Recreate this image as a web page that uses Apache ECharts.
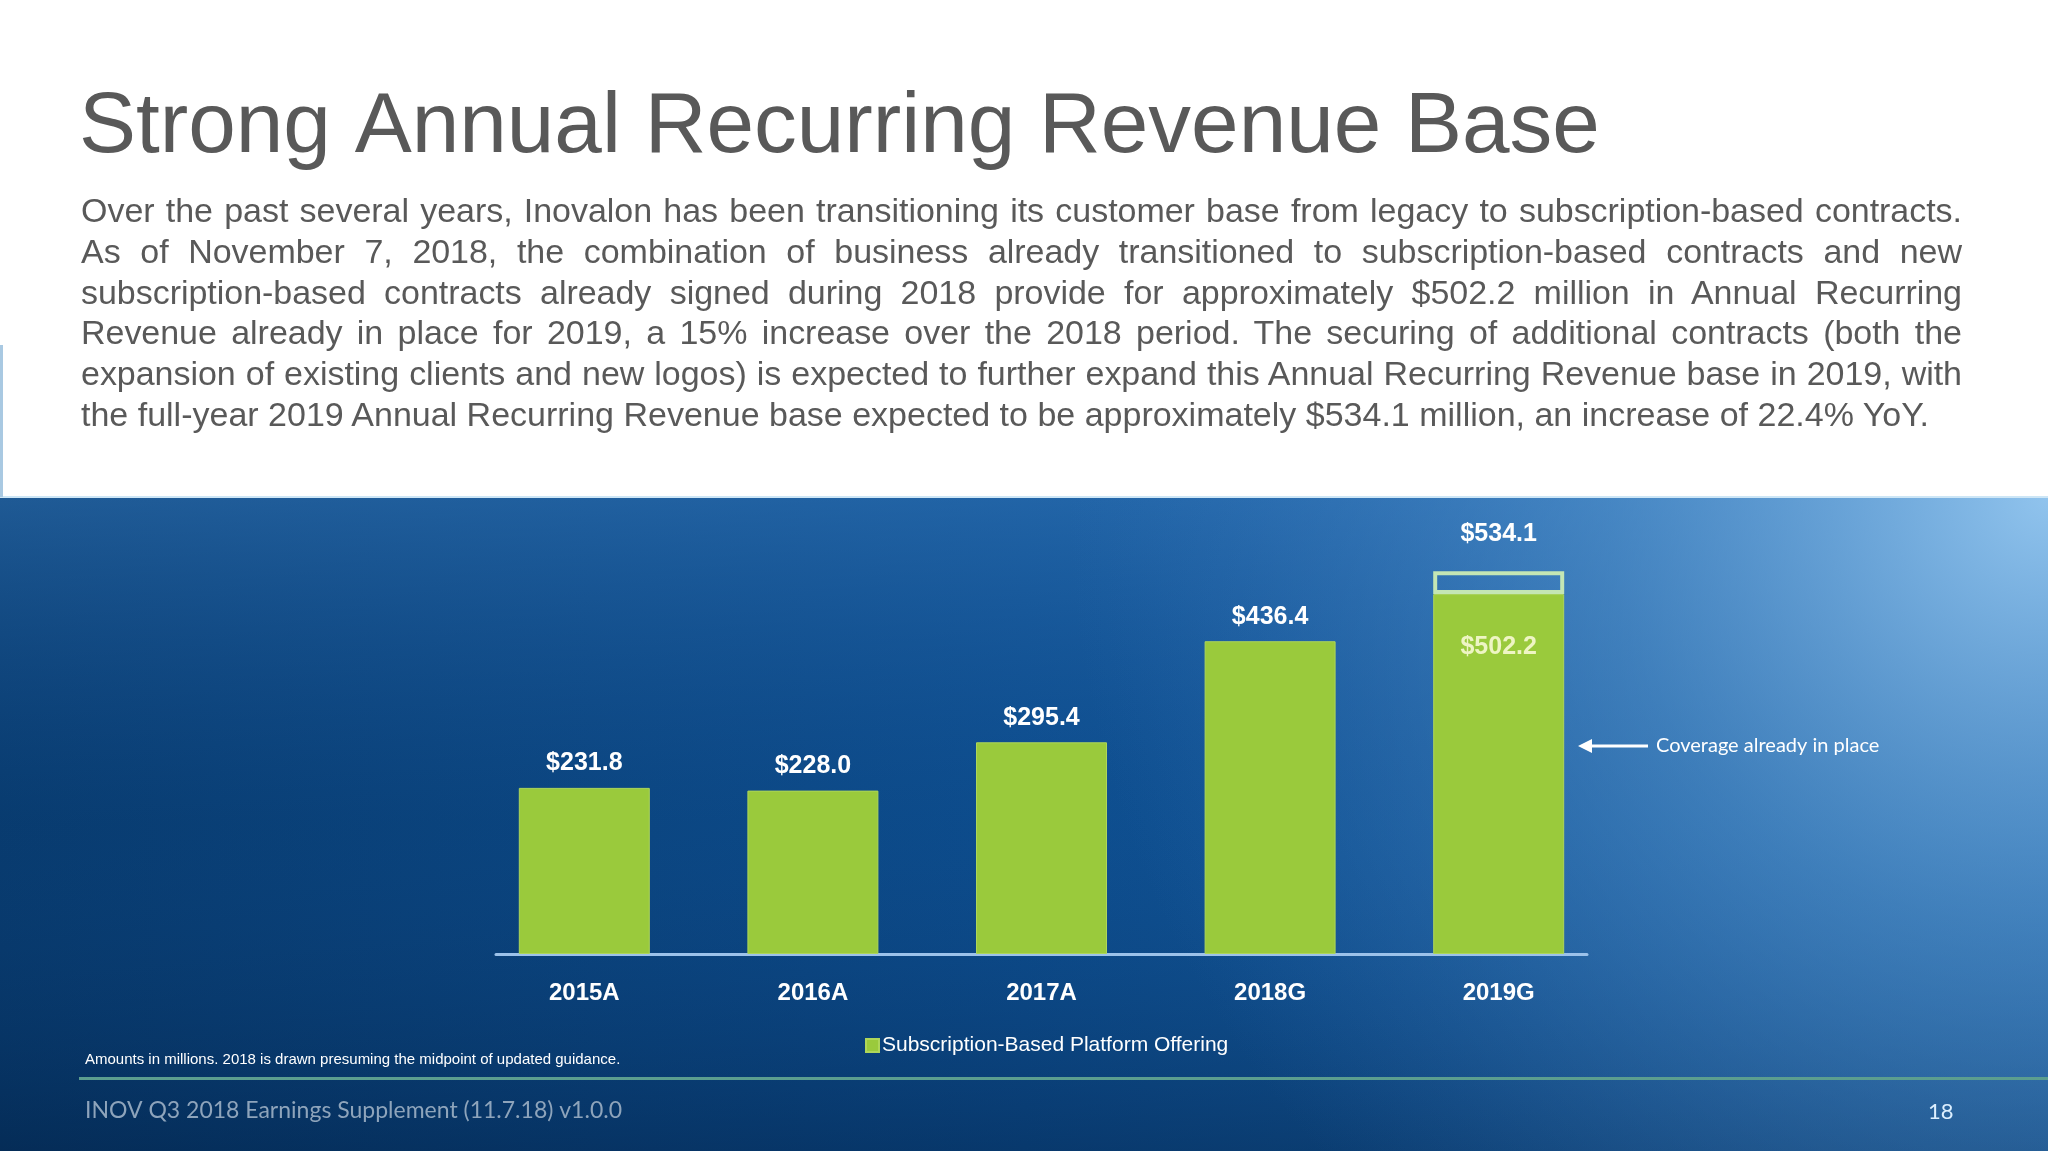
<!DOCTYPE html>
<html>
<head>
<meta charset="utf-8">
<script src="https://cdn.jsdelivr.net/npm/echarts@6/dist/echarts.min.js"></script>
<style>
  html, body { margin: 0; padding: 0; background: #ffffff; width: 2048px; height: 1151px; overflow: hidden; }
  #chart { position: absolute; left: 0; top: 0; width: 2048px; height: 1151px; }
  #para { position: absolute; left: 81px; top: 190px; width: 1881px; font-family: 'Liberation Sans', Arial, sans-serif; font-size: 34px; line-height: 40.8px; color: #595959; }
  #para .j { white-space: nowrap; text-align: justify; text-align-last: justify; }
  #para .l { white-space: nowrap; text-align: left; }
  #para span { display: inline; }
</style>
</head>
<body>
<div id="chart"></div>
<div id="para"></div>
<script>
// ---- data ----
const categories = ['2015A', '2016A', '2017A', '2018G', '2019G'];
const subscriptionARR = [231.8, 228.0, 295.4, 436.4, 502.2];
const expectedTotalARR = [null, null, null, null, 534.1];
const legendName = 'Subscription-Based Platform Offering';
const titleText = 'Strong Annual Recurring Revenue Base';
const paragraphLines = [
  'Over the past several years, Inovalon has been transitioning its customer base from legacy to subscription-based contracts.',
  'As of November 7, 2018, the combination of business already transitioned to subscription-based contracts and new',
  'subscription-based contracts already signed during 2018 provide for approximately $502.2 million in Annual Recurring',
  'Revenue already in place for 2019, a 15% increase over the 2018 period. The securing of additional contracts (both the',
  'expansion of existing clients and new logos) is expected to further expand this Annual Recurring Revenue base in 2019, with',
  'the full-year 2019 Annual Recurring Revenue base expected to be approximately $534.1 million, an increase of 22.4% YoY.'
];
const footnoteText = 'Amounts in millions. 2018 is drawn presuming the midpoint of updated guidance.';
const footerText = 'INOV Q3 2018 Earnings Supplement (11.7.18) v1.0.0';
const pageNumber = '18';
const annotationText = 'Coverage already in place';

// paragraph (justified, as in the slide); squeeze a line slightly if it would overflow
const para = document.getElementById('para');
const boxW = 1881;
paragraphLines.forEach((t, i) => {
  const d = document.createElement('div');
  d.className = i < paragraphLines.length - 1 ? 'j' : 'l';
  const s = document.createElement('span');
  s.textContent = t;
  d.appendChild(s);
  para.appendChild(d);
  const w = s.getBoundingClientRect().width;
  if (w > boxW - 4) {
    d.style.letterSpacing = ((boxW - 4 - w) / t.length).toFixed(3) + 'px';
  }
});

// gap between expected total and coverage in place
const expectedGap = expectedTotalARR.map((v, i) => v == null ? null : +(v - subscriptionARR[i]).toFixed(1));

const FONT = "'Liberation Sans', Arial, sans-serif";
const SANS2 = "Lato, 'Open Sans', sans-serif";
const chart = echarts.init(document.getElementById('chart'), null, { renderer: 'canvas' });

const option = {
  backgroundColor: '#ffffff',
  animation: false,
  graphic: [
    // blue panel
    { type: 'rect', z: -10, silent: true, shape: { x: 0, y: 497, width: 2048, height: 654 },
      style: { fill: { type: 'linear', x: 0, y: 0, x2: 1, y2: 0, colorStops: [
        { offset: 0, color: '#07396b' }, { offset: 0.5, color: '#0c4c8c' }, { offset: 1, color: '#1c64a6' } ] } } },
    { type: 'rect', z: -9, silent: true, shape: { x: 0, y: 497, width: 2048, height: 654 },
      style: { fill: { type: 'linear', x: 0, y: 0, x2: 0, y2: 1, colorStops: [
        { offset: 0, color: 'rgba(60,130,200,0.45)' }, { offset: 0.5, color: 'rgba(20,80,150,0.1)' }, { offset: 1, color: 'rgba(0,20,50,0.35)' } ] } } },
    { type: 'rect', z: -8, silent: true, shape: { x: 0, y: 497, width: 2048, height: 654 },
      style: { fill: { type: 'radial', x: 1, y: 0, r: 1.5, colorStops: [
        { offset: 0, color: 'rgba(150,200,240,0.95)' }, { offset: 0.45, color: 'rgba(100,160,215,0.5)' }, { offset: 1, color: 'rgba(60,120,190,0)' } ] } } },
    { type: 'rect', z: -7, silent: true, shape: { x: 0, y: 496, width: 2048, height: 2 }, style: { fill: '#cde6f6' } },
    { type: 'rect', z: -7, silent: true, shape: { x: 0, y: 345, width: 3, height: 152 }, style: { fill: '#a9c9e2' } },
    // bottom rule
    { type: 'rect', z: -6, silent: true, shape: { x: 79, y: 1077, width: 1969, height: 3 }, style: { fill: '#5c9e8f' } },
    // title
    { type: 'text', left: 79, top: 85, silent: true,
      style: { text: titleText, font: '400 85.5px ' + FONT, fill: '#595959' } },
    // footnote
    { type: 'text', x: 85, y: 1060, silent: true,
      style: { text: footnoteText, font: '15px ' + FONT, fill: '#ffffff', verticalAlign: 'middle' } },
    // footer
    { type: 'text', x: 85, y: 1111, silent: true,
      style: { text: footerText, font: '23px ' + SANS2, fill: '#8ea4bb', verticalAlign: 'middle' } },
    { type: 'text', x: 1928, y: 1112, silent: true,
      style: { text: pageNumber, font: '22px ' + SANS2, fill: '#dcefff', verticalAlign: 'middle' } },
    // annotation arrow
    { type: 'line', silent: true, shape: { x1: 1590, y1: 746, x2: 1648, y2: 746 }, style: { stroke: '#ffffff', lineWidth: 3 } },
    { type: 'polygon', silent: true, shape: { points: [[1578, 746], [1592, 739], [1592, 753]] }, style: { fill: '#ffffff' } },
    { type: 'text', x: 1656, y: 746, silent: true,
      style: { text: annotationText, font: '20px ' + SANS2, fill: '#ffffff', verticalAlign: 'middle' } }
  ],
  legend: {
    data: [legendName],
    left: 860, top: 1030,
    itemWidth: 13, itemHeight: 13, itemGap: 6,
    icon: 'rect',
    textStyle: { color: '#ffffff', fontSize: 21, fontFamily: FONT, padding: [0, 0, 0, -2] }
  },
  grid: [
    { left: 470, width: 1143, top: 524, bottom: 197, containLabel: false },
    { left: 496, width: 1091, top: 524, bottom: 197, containLabel: false }
  ],
  xAxis: [
    {
      type: 'category', gridIndex: 0,
      data: categories,
      axisLine: { show: false },
      axisTick: { show: false },
      axisLabel: { color: '#ffffff', fontSize: 24, fontWeight: 'bold', fontFamily: FONT, margin: 27 }
    },
    {
      type: 'value', gridIndex: 1, min: 0, max: 1,
      axisLine: { show: true, lineStyle: { color: '#9cc2ea', width: 3 } },
      axisTick: { show: false }, axisLabel: { show: false }, splitLine: { show: false }
    }
  ],
  yAxis: [
    { type: 'value', gridIndex: 0, min: 0, max: 600, interval: 100, show: false, splitLine: { show: false } },
    { type: 'value', gridIndex: 1, min: 0, max: 600, interval: 100, show: false, splitLine: { show: false } }
  ],
  series: [
    {
      name: legendName,
      type: 'bar',
      stack: 'arr',
      data: subscriptionARR.map((v, i) => i === subscriptionARR.length - 1 && expectedTotalARR[i] != null ? {
        value: v,
        label: { position: 'insideTop', distance: 41, color: '#eef5c4' }
      } : v),
      barWidth: 131,
      itemStyle: { color: '#9aca3c', borderColor: '#aed65a', borderWidth: 1 },
      label: {
        show: true, position: 'top', distance: 12,
        formatter: p => '$' + p.value.toFixed(1),
        color: '#ffffff', fontSize: 25, fontWeight: 'bold', fontFamily: FONT
      },
      z: 3
    },
    {
      name: 'Expected additional',
      type: 'bar',
      stack: 'arr',
      data: expectedGap,
      barWidth: 131,
      itemStyle: { color: 'rgba(0,0,0,0)', borderColor: '#c4e6b4', borderWidth: 4 },
      label: {
        show: true, position: 'top', distance: 25,
        formatter: p => p.value == null ? '' : '$' + expectedTotalARR[p.dataIndex].toFixed(1),
        color: '#ffffff', fontSize: 25, fontWeight: 'bold', fontFamily: FONT
      },
      z: 3
    }
  ]
};
chart.setOption(option);
</script>
</body>
</html>
